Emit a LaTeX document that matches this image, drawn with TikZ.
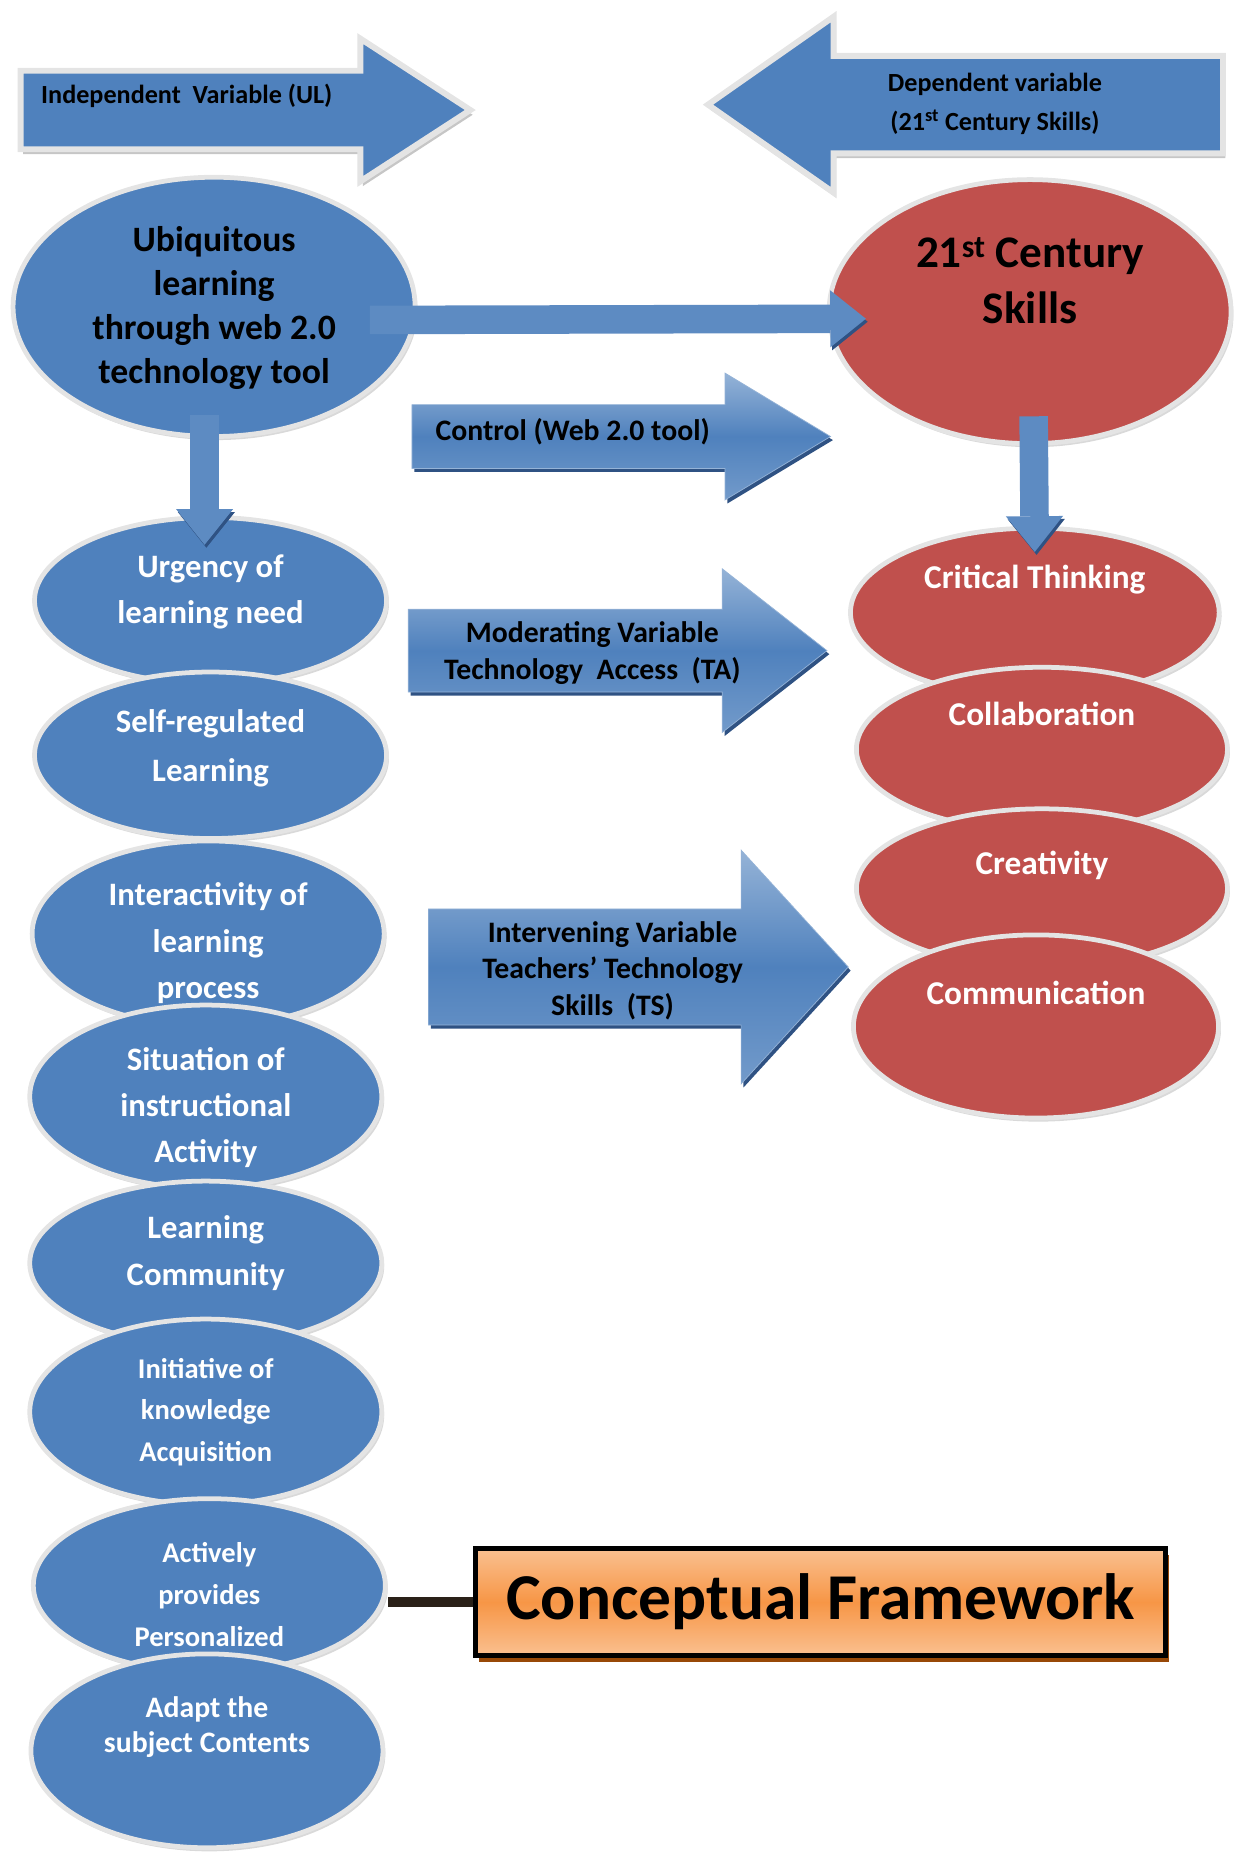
\documentclass[tikz,border=0pt]{standalone}
\usepackage{fontspec}
\setmainfont{Carlito}
\usetikzlibrary{shapes,arrows.meta,shadows}

\definecolor{ulBlue}{HTML}{4F81BD}
\definecolor{ulBlueLight}{HTML}{95B3D7}
\definecolor{ulBlueDark}{HTML}{2F5283}
\definecolor{skillRed}{HTML}{C0504D}
\definecolor{ringGray}{HTML}{E4E4E4}
\definecolor{frameOrange}{HTML}{F79646}
\definecolor{frameLight}{HTML}{FAC090}
\definecolor{frameBrown}{HTML}{984807}
\definecolor{linkDark}{HTML}{2A2118}

% text lines set inside a shape: right shift, raise, lines
\newcommand{\inText}[3]{\makebox[0pt]{\hspace*{#1}\hspace*{#1}\raisebox{#2}[0pt][0pt]{\begin{tabular}{@{}c@{}}#3\end{tabular}}}}

\begin{document}
\begin{tikzpicture}[x=1pt,y=-1pt,
  varArrow/.style={single arrow,inner sep=0pt,fill=ulBlue,draw=ringGray,line width=5pt,
    drop shadow={shadow xshift=2pt,shadow yshift=-4pt,opacity=0.45},
    font=\bfseries\fontsize{22}{33}\selectfont},
  midArrow/.style={single arrow,inner sep=0pt,top color=ulBlueLight,bottom color=ulBlue!80!white,
    middle color=ulBlue,draw=ulBlue!60!white,line width=0.6pt,
    drop shadow={shadow xshift=2pt,shadow yshift=-3pt,fill=ulBlueDark,opacity=1},
    font=\bfseries\fontsize{25}{31}\selectfont},
  mainOval/.style={ellipse,inner sep=0pt,draw=ringGray,line width=4pt,
    drop shadow={shadow xshift=2pt,shadow yshift=-3pt,opacity=0.3}},
  factor/.style={mainOval,fill=ulBlue,text=white,minimum width=296pt,
    font=\bfseries\fontsize{27.5}{39}\selectfont},
  skillItem/.style={mainOval,fill=skillRed,text=white,
    font=\bfseries\fontsize{28}{39}\selectfont},
  frameBox/.style={rectangle,draw=black,line width=4.5pt,top color=frameLight,
    bottom color=frameLight,middle color=frameOrange,
    drop shadow={shadow xshift=3pt,shadow yshift=-5pt,fill=frameBrown,opacity=1},
    font=\bfseries\fontsize{55}{60}\selectfont},
  flowArrow/.style={draw=ulBlue!92!white,line width=24pt,
    -{Triangle[length=30pt,width=48pt,line width=0pt]},
    preaction={draw=ulBlueDark,transform canvas={xshift=1.5pt,yshift=-2.5pt}}},
  frameLink/.style={draw=linkDark,line width=8pt}]

  \useasboundingbox (0,0) rectangle (1042,1568);

  % variable arrows at the top
  \node[varArrow,minimum height=378pt,minimum width=115pt,text height=30.5pt,text depth=30.5pt,
    single arrow head extend=27pt,single arrow tip angle=66] (indep) at (181,92.5)
    {\inText{-24pt}{7pt}{Independent\ \ Variable (UL)}};
  \node[varArrow,shape border rotate=180,minimum height=433pt,minimum width=143pt,
    text height=38.5pt,text depth=38.5pt,
    single arrow head extend=33pt,single arrow tip angle=70] (dep) at (841,88)
    {\inText{-4.5pt}{-4pt}{Dependent variable\\(21\textsuperscript{st} Century Skills)}};

  % main variables
  \node[mainOval,fill=ulBlue,minimum width=338pt,minimum height=218pt,
    font=\bfseries\fontsize{30}{37}\selectfont] (ubiq) at (180,258)
    {\inText{0pt}{-7.5pt}{Ubiquitous\\learning\\through web 2.0\\technology tool}};
  \node[mainOval,fill=skillRed,minimum width=338pt,minimum height=222pt,
    font=\bfseries\fontsize{38}{47}\selectfont] (skills) at (866,262)
    {\inText{0pt}{16.5pt}{21\textsuperscript{st} Century\\Skills}};

  \node[midArrow,minimum height=352pt,minimum width=106pt,text height=26.5pt,text depth=26.5pt,
    single arrow head extend=26.5pt,single arrow tip angle=62] (control) at (500,367)
    {\inText{-18.5pt}{-3pt}{Control (Web 2.0 tool)}};

  % factors of ubiquitous learning
  \node[factor,minimum height=140pt] (urgency) at (177,505)
    {\inText{0pt}{1.5pt}{Urgency of\\learning need}};
  \node[factor,minimum height=140pt,font=\bfseries\fontsize{27.5}{41}\selectfont] (selfReg) at (177,635)
    {\inText{0pt}{0.5pt}{Self-regulated\\Learning}};
  \node[factor,minimum height=156pt] (interact) at (175,785)
    {\inText{0pt}{-14pt}{Interactivity of\\learning\\process}};
  \node[factor,minimum height=154pt,font=\bfseries\fontsize{27.5}{38.5}\selectfont] (situation) at (173,922)
    {\inText{0pt}{-15pt}{Situation of\\instructional\\Activity}};
  \node[factor,minimum height=138pt] (community) at (173,1062)
    {\inText{0pt}{2.5pt}{Learning\\Community}};
  \node[factor,minimum height=156pt,font=\bfseries\fontsize{24}{35}\selectfont] (initiative) at (173,1187)
    {\inText{0pt}{-6pt}{Initiative of\\knowledge\\Acquisition}};
  \node[factor,minimum height=146pt,font=\bfseries\fontsize{24}{35.5}\selectfont] (actively) at (176,1333)
    {\inText{0pt}{-15pt}{Actively\\provides\\Personalized}};
  \node[factor,minimum height=163pt,font=\bfseries\fontsize{25}{30}\selectfont] (adapt) at (174,1472)
    {\inText{0pt}{13pt}{Adapt the\\subject Contents}};

  % 21st century skills
  \node[skillItem,minimum width=310pt,minimum height=142pt] (critical) at (870,515)
    {\inText{0pt}{22pt}{Critical Thinking}};
  \node[skillItem,minimum width=312pt,minimum height=138pt] (collab) at (876,630)
    {\inText{0pt}{22pt}{Collaboration}};
  \node[skillItem,minimum width=312pt,minimum height=134pt] (creativity) at (876,747)
    {\inText{0pt}{13pt}{Creativity}};
  \node[skillItem,minimum width=307pt,minimum height=154pt] (commun) at (871,863)
    {\inText{0pt}{20pt}{Communication}};

  \node[midArrow,minimum height=352pt,minimum width=137pt,text height=34.5pt,text depth=34.5pt,
    single arrow head extend=34pt,single arrow tip angle=76] (moderating) at (497,547)
    {\inText{1pt}{-9pt}{Moderating Variable\\Technology\ \ Access\ \ (TA)}};
  \node[midArrow,minimum height=353pt,minimum width=196pt,text height=48.5pt,text depth=48.5pt,
    single arrow head extend=49.5pt,single arrow tip angle=95] (intervening) at (514.3,813)
    {\inText{0.7pt}{-10pt}{Intervening Variable\\Teachers’ Technology\\Skills\ \ (TS)}};

  \node[frameBox,minimum width=580pt,minimum height=90pt] (frame) at (690,1347)
    {Conceptual Framework};

  % connectors
  \draw[flowArrow] ([xshift=-40pt,yshift=-11pt]ubiq.east) -- ([xshift=33pt,yshift=-6pt]skills.west);
  \draw[flowArrow] ([xshift=-8pt,yshift=20pt]ubiq.south) -- ([xshift=-5pt,yshift=-25pt]urgency.north);
  \draw[flowArrow] ([xshift=3pt,yshift=25pt]skills.south) -- ([yshift=-22pt]critical.north);
  \draw[frameLink] (frame.west) -- (frame.west -| actively.east);
\end{tikzpicture}
\end{document}
